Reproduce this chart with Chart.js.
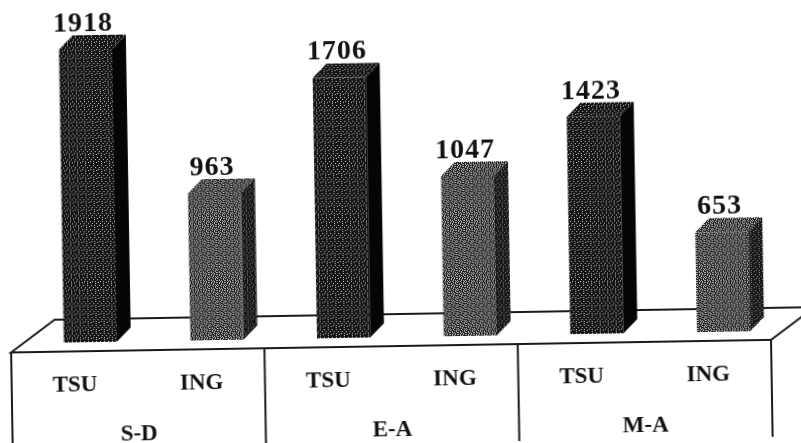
<!DOCTYPE html>
<html>
<head>
<meta charset="utf-8">
<title>TSU / ING</title>
<style>
  html, body { margin: 0; padding: 0; background: #fff; overflow: hidden; width: 801px; height: 443px; }
  /* the scan sits about one degree off square, text and all */
  #chart { display: block; transform: rotate(-0.95deg); transform-origin: 400px 221px; }
</style>
<script src="https://cdn.jsdelivr.net/npm/chart.js@4/dist/chart.umd.min.js"></script>
</head>
<body>
<canvas id="chart" width="801" height="443"></canvas>
<script>
var categories = ["TSU", "ING", "TSU", "ING", "TSU", "ING"];
var groups = ["S-D", "E-A", "M-A"];
var values = [1918, 963, 1706, 1047, 1423, 653];

// halftone tiles from the scan, one row per string, # = light speck
var darkTile = [
  "........",
  "..#...#.",
  "........",
  "#...#...",
  "........",
  "...#..#.",
  ".#......",
  "......#."
];
var greyTile = [
  "#.#..#.#",
  "..#.#...",
  "#...#.#.",
  ".#.#...#",
  "#...#.#.",
  "..#...#.",
  "#.#.#..#",
  "...#.#.."
];

function halftone(rows, ink, speck) {
  var c = document.createElement("canvas");
  c.width = rows[0].length;
  c.height = rows.length;
  var g = c.getContext("2d");
  g.fillStyle = ink;
  g.fillRect(0, 0, c.width, c.height);
  g.fillStyle = speck;
  rows.forEach(function (row, y) {
    row.split("").forEach(function (ch, x) {
      if (ch === "#") g.fillRect(x, y, 1, 1);
    });
  });
  return g.createPattern(c, "repeat");
}

var ctx = document.getElementById("chart").getContext("2d");
var darkFront = halftone(darkTile, "#141414", "#c4c4c4");
var greyFront = halftone(greyTile, "#1c1c1c", "#bdbdbd");
var greySide = halftone(darkTile, "#181818", "#8c8c8c");

var depthX = 14, depthY = 14;   // extrusion of the columns
var shiftX = 16, shiftY = -9;   // columns stand back from the front edge of the floor
var floorX = 44, floorY = 32;

var floorTable = {
  id: "floorTable",
  beforeDatasetsDraw: function (chart) {
    var c = chart.ctx, a = chart.chartArea, x2 = chart.scales.x2;
    c.save();
    c.strokeStyle = "#1a1a1a";
    c.lineWidth = 2;
    c.beginPath();
    c.moveTo(a.left, a.bottom);
    c.lineTo(a.left + floorX, a.bottom - floorY);
    c.lineTo(a.right + floorX, a.bottom - floorY);
    c.lineTo(a.right, a.bottom);
    c.closePath();
    var step = x2.width / groups.length;
    for (var i = 0; i <= groups.length; i++) {
      c.moveTo(x2.left + i * step, a.bottom);
      c.lineTo(x2.left + i * step, 443);
    }
    c.stroke();
    c.restore();

    c.save();
    c.translate(shiftX, shiftY);
  },
  afterDatasetsDraw: function (chart) {
    var c = chart.ctx;
    var bars = chart.getDatasetMeta(0).data;
    bars.forEach(function (bar, i) {
      var half = bar.width / 2;
      var l = bar.x - half, r = bar.x + half, t = bar.y, b = bar.base;
      c.fillStyle = i % 2 ? greySide : "#050505";
      c.beginPath();
      c.moveTo(r, t);
      c.lineTo(r + depthX, t - depthY);
      c.lineTo(r + depthX, b - depthY);
      c.lineTo(r, b);
      c.closePath();
      c.fill();
      c.fillStyle = i % 2 ? greyFront : darkFront;
      c.beginPath();
      c.moveTo(l, t);
      c.lineTo(l + depthX, t - depthY);
      c.lineTo(r + depthX, t - depthY);
      c.lineTo(r, t);
      c.closePath();
      c.fill();

      c.fillStyle = "#111";
      c.font = "bold 28px 'Liberation Serif'";
      c.letterSpacing = "1px";
      c.textAlign = "center";
      c.textBaseline = "alphabetic";
      c.fillText(values[i], bar.x - 2, t - depthY - 4);
      c.letterSpacing = "0px";
    });
    c.restore();
  }
};

new Chart(ctx, {
  type: "bar",
  data: {
    labels: categories,
    datasets: [{
      data: values,
      backgroundColor: function (item) { return item.dataIndex % 2 ? greyFront : darkFront; },
      barPercentage: 0.42,
      categoryPercentage: 1
    }]
  },
  options: {
    responsive: false,
    animation: false,
    layout: { padding: { left: 9, right: 32, top: 10, bottom: 0 } },
    plugins: { legend: { display: false }, tooltip: { enabled: false } },
    scales: {
      y: { display: false, min: 0, max: 2200 },
      x: {
        position: "bottom",
        grid: { display: false },
        border: { display: false },
        ticks: { color: "#111", font: { family: "Liberation Serif", weight: "bold", size: 23 }, padding: 12, maxRotation: 0, autoSkip: false },
        afterFit: function (s) { s.height = 55; }
      },
      x2: {
        type: "category",
        labels: groups,
        position: "bottom",
        grid: { display: false },
        border: { display: false },
        ticks: { color: "#111", font: { family: "Liberation Serif", weight: "bold", size: 23 }, padding: 7, maxRotation: 0 },
        afterFit: function (s) { s.height = 42; }
      }
    }
  },
  plugins: [floorTable]
});
</script>
</body>
</html>
